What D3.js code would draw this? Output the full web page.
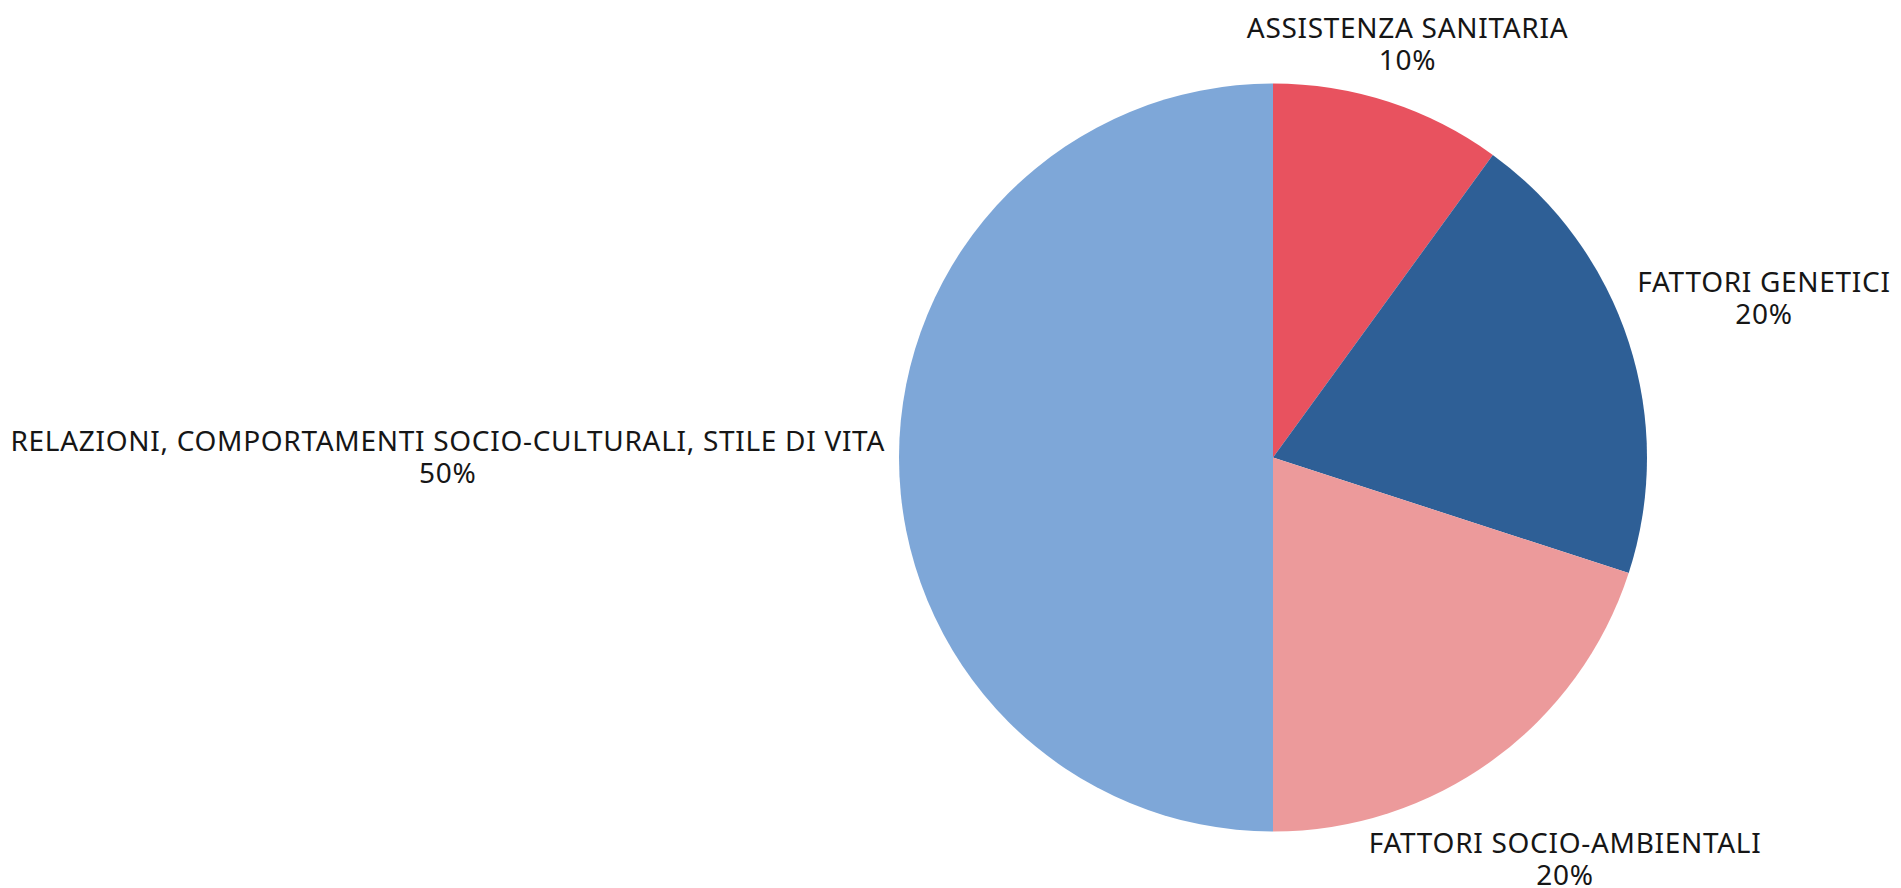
<!DOCTYPE html>
<html>
<head>
<meta charset="utf-8">
<script src="https://cdn.jsdelivr.net/npm/d3@7"></script>
<style>
  body { margin: 0; background: #fff; }
  .chart text { font-family: "Noto Sans", sans-serif; fill: #161616; letter-spacing: 0.7px; }
</style>
</head>
<body>
<svg class="chart"></svg>
<script>
// data
const labels = ['ASSISTENZA SANITARIA', 'FATTORI GENETICI', 'FATTORI SOCIO-AMBIENTALI',
  'RELAZIONI, COMPORTAMENTI SOCIO-CULTURALI, STILE DI VITA'];
const values = [10, 20, 20, 50];
const colors = ['#e8525f', '#2e5f96', '#ec9a9b', '#7ea7d8'];

const width = 1901, height = 888;
const cx = 1273, cy = 457.5, radius = 374;
const fontSize = 28, lineH = 32, capH = 0.714 * fontSize, gap = 14;

const svg = d3.select('.chart')
  .attr('width', width)
  .attr('height', height);

const total = d3.sum(values);
const pie = d3.pie().sort(null).value(d => d.value);
const arc = d3.arc().innerRadius(0).outerRadius(radius);

const slices = pie(labels.map((l, i) => ({label: l, value: values[i], color: colors[i]})));

const g = svg.append('g').attr('transform', `translate(${cx},${cy})`);

g.selectAll('path')
  .data(slices)
  .enter().append('path')
  .attr('d', arc)
  .attr('fill', d => d.data.color);

// labels outside the pie, pushed out along the mid angle until the box clears the circle
const lab = g.selectAll('g.lab')
  .data(slices)
  .enter().append('g')
  .attr('class', 'lab');

lab.append('text')
  .attr('text-anchor', 'middle')
  .style('font-size', fontSize + 'px')
  .each(function(d) {
    const t = d3.select(this);
    t.append('tspan').attr('x', 0).attr('y', 0).text(d.data.label);
    t.append('tspan').attr('x', 0).attr('y', lineH).text(Math.round(d.data.value / total * 100) + '%');
  });

lab.attr('transform', function(d) {
  const w = d3.max(d3.select(this).selectAll('tspan').nodes(), n => n.getComputedTextLength());
  const hw = w / 2, hh = (lineH + capH) / 2;
  const offY = (lineH - capH) / 2; // box centre relative to first baseline
  const a = (d.startAngle + d.endAngle) / 2;
  const sx = Math.sin(a), sy = -Math.cos(a);
  const dist = t => {
    const dx = Math.max(Math.abs(t * sx) - hw, 0);
    const dy = Math.max(Math.abs(t * sy) - hh, 0);
    return Math.hypot(dx, dy);
  };
  let lo = 0, hi = 3000;
  for (let k = 0; k < 60; k++) {
    const mid = (lo + hi) / 2;
    if (dist(mid) < radius + gap) lo = mid; else hi = mid;
  }
  return `translate(${hi * sx},${hi * sy - offY})`;
});
</script>
</body>
</html>
